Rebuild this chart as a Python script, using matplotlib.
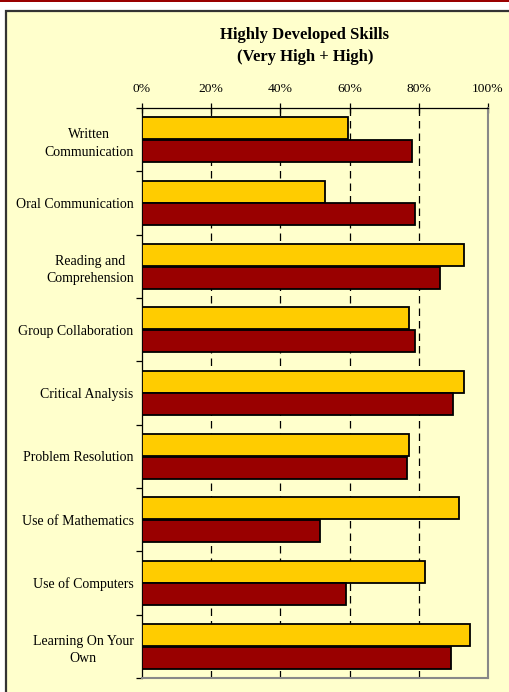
import matplotlib
matplotlib.use("Agg")
import matplotlib.pyplot as plt
from matplotlib.patches import Rectangle
import numpy as np

categories = ["Written\nCommunication", "Oral Communication", "Reading and\nComprehension",
              "Group Collaboration", "Critical Analysis", "Problem Resolution",
              "Use of Mathematics", "Use of Computers", "Learning On Your\nOwn"]
series_yellow = [59.6, 52.8, 93.1, 77.2, 93.2, 77.2, 91.5, 81.8, 94.9]
series_red = [77.9, 78.9, 86.1, 78.9, 89.9, 76.5, 51.4, 58.9, 89.2]
x_ticks = [0, 20, 40, 60, 80, 100]
x_tick_labels = ["0%", "20%", "40%", "60%", "80%", "100%"]
title_lines = ["Highly Developed Skills", "(Very High + High)"]

W, H = 509, 692
plt.rcParams['font.family'] = ['Liberation Serif', 'DejaVu Serif']
fig = plt.figure(figsize=(W / 100, H / 100), dpi=100, facecolor="white")

# top red rule and framed chart area
fig.add_artist(Rectangle((0, 1 - 2 / H), 1, 2 / H, transform=fig.transFigure,
                         facecolor="#990000", edgecolor="none", zorder=-5))
fig.add_artist(Rectangle((5.5 / W, -0.05), 1.2, 1 - 10.5 / H + 0.05, transform=fig.transFigure,
                         facecolor="#FFFFCC", edgecolor="#333333", linewidth=1.6, zorder=-5))

ax = fig.add_axes([142 / W, 1 - 678 / H, (488 - 142) / W, (678 - 108) / H])
ax.set_facecolor("none")
ax.set_zorder(5)

n = len(categories)
y = np.arange(n)
off = 0.177
h = 0.347
ax.barh(y - off, series_yellow, height=h, color="#FFCC00", edgecolor="black", linewidth=1.3, zorder=3)
ax.barh(y + off, series_red, height=h, color="#990000", edgecolor="black", linewidth=1.3, zorder=3)

ax.set_xlim(0, 100)
ax.set_ylim(n - 0.5, -0.5)

for gx in x_ticks[1:-1]:
    ax.axvline(gx, color="black", linewidth=0.9, linestyle=(0, (6, 4)), zorder=1)

ax.xaxis.tick_top()
ax.set_xticks(x_ticks)
ax.set_xticklabels(x_tick_labels, fontsize=9.7)
ax.tick_params(axis="x", direction="inout", length=7, width=0.9, pad=6, colors="black")

ax.set_yticks(y)
ax.set_yticklabels(categories, fontsize=10, multialignment="center", linespacing=1.45)
ax.tick_params(axis="y", which="major", length=0, pad=6)
ax.set_yticks(np.arange(-0.5, n, 1.0), minor=True)
ax.tick_params(axis="y", which="minor", length=4, width=0.9, direction="out")

ax.spines["top"].set_color("black")
ax.spines["top"].set_linewidth(0.9)
ax.spines["left"].set_color("black")
ax.spines["left"].set_linewidth(0.9)
ax.spines["right"].set_color("#888888")
ax.spines["right"].set_linewidth(1.5)
ax.spines["bottom"].set_color("#888888")
ax.spines["bottom"].set_linewidth(1.5)

fig.text(305 / W, 1 - 35 / H, title_lines[0], ha="center", va="center",
         fontsize=12, fontweight="bold")
fig.text(305 / W, 1 - 57 / H, title_lines[1], ha="center", va="center",
         fontsize=12, fontweight="bold")

fig.savefig("out.png", dpi=100, facecolor="white")
